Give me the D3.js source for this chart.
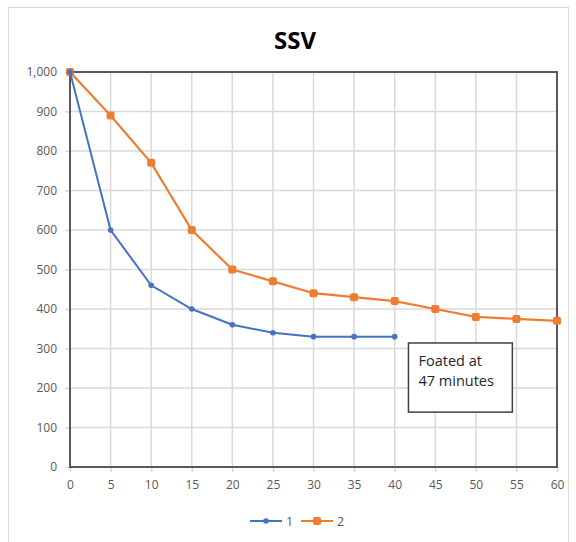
<!DOCTYPE html>
<html lang="en">
<head>
<meta charset="utf-8">
<title>SSV</title>
<script src="https://d3js.org/d3.v7.min.js"></script>
<style>
  body { margin: 0; background: #fff; }
  text { font-family: "Open Sans", "Liberation Sans", sans-serif; }
  .tick text { fill: #595959; font-size: 12px; }
</style>
</head>
<body>
<svg width="576" height="542"></svg>
<script>
// data
var minutes1 = [0, 5, 10, 15, 20, 25, 30, 35, 40];
var ssv1 = [1000, 600, 460, 400, 360, 340, 330, 330, 330];
var minutes2 = [0, 5, 10, 15, 20, 25, 30, 35, 40, 45, 50, 55, 60];
var ssv2 = [1000, 890, 770, 600, 500, 470, 440, 430, 420, 400, 380, 375, 370];
var xTicks = d3.range(0, 61, 5);
var yTicks = d3.range(0, 1001, 100);
var seriesNames = ["1", "2"];
var noteLines = ["Foated at", "47 minutes"];

var svg = d3.select("svg");
var plotL = 70, plotR = 557, plotT = 72, plotB = 467;

// outer frame
svg.append("rect").attr("x", 8.5).attr("y", 7.5).attr("width", 560).attr("height", 540)
  .attr("fill", "none").attr("stroke", "#d9d9d9");

var x = d3.scaleLinear().domain([0, 60]).range([plotL, plotR]);
var y = d3.scaleLinear().domain([0, 1000]).range([plotB, plotT]);

svg.append("text").attr("x", 295).attr("y", 49).attr("text-anchor", "middle")
  .attr("font-size", 24).attr("font-weight", "bold").attr("fill", "#000").text("SSV");

// grid
svg.append("g").selectAll("line").data(xTicks).join("line")
  .attr("x1", d => x(d)).attr("x2", d => x(d)).attr("y1", plotT).attr("y2", plotB)
  .attr("stroke", "#d9d9d9").attr("stroke-width", 1.5);
svg.append("g").selectAll("line").data(yTicks).join("line")
  .attr("x1", plotL).attr("x2", plotR).attr("y1", d => y(d)).attr("y2", d => y(d))
  .attr("stroke", "#d9d9d9").attr("stroke-width", 1.5);

// axes
var xAxis = svg.append("g").attr("transform", `translate(0,${plotB})`)
  .call(d3.axisBottom(x).tickValues(xTicks).tickSize(5).tickPadding(8));
var yAxis = svg.append("g").attr("transform", `translate(${plotL},0)`)
  .call(d3.axisLeft(y).tickValues(yTicks).tickSize(5).tickPadding(8).tickFormat(d3.format(",")));
[xAxis, yAxis].forEach(a => {
  a.select(".domain").remove();
  a.selectAll(".tick line").attr("stroke", "#d9d9d9").attr("stroke-width", 1.5);
});

// plot border
svg.append("rect").attr("x", plotL).attr("y", plotT).attr("width", plotR - plotL).attr("height", plotB - plotT)
  .attr("fill", "none").attr("stroke", "#595959").attr("stroke-width", 2);

// note box
var bx0 = x(41.7), bx1 = x(54.5), by0 = y(314), by1 = y(139);
svg.append("rect").attr("x", bx0).attr("y", by0).attr("width", bx1 - bx0).attr("height", by1 - by0)
  .attr("fill", "#fff").attr("stroke", "#404040").attr("stroke-width", 1.5);
svg.append("text").attr("x", bx0 + 10).attr("y", by0 + 23).attr("font-size", 14.5).attr("fill", "#262626")
  .selectAll("tspan").data(noteLines).join("tspan")
  .attr("x", bx0 + 10).attr("dy", (d, i) => i ? 20 : 0).text(d => d);

var line = d3.line().x(d => x(d[0])).y(d => y(d[1]));
var d1 = minutes1.map((m, i) => [m, ssv1[i]]);
var d2 = minutes2.map((m, i) => [m, ssv2[i]]);

svg.append("path").datum(d2).attr("d", line).attr("fill", "none")
  .attr("stroke", "#ED7D31").attr("stroke-width", 2.2);
svg.append("g").selectAll("rect").data(d2).join("rect")
  .attr("x", d => x(d[0]) - 4).attr("y", d => y(d[1]) - 4).attr("width", 8).attr("height", 8)
  .attr("rx", 2).attr("fill", "#ED7D31");

svg.append("path").datum(d1).attr("d", line).attr("fill", "none")
  .attr("stroke", "#4472C4").attr("stroke-width", 2);
svg.append("g").selectAll("circle").data(d1).join("circle")
  .attr("cx", d => x(d[0])).attr("cy", d => y(d[1])).attr("r", 2.8).attr("fill", "#4472C4");

// legend
var legend = svg.append("g").attr("transform", "translate(250,521)");
var colors = ["#4472C4", "#ED7D31"];
seriesNames.forEach((n, i) => {
  var g = legend.append("g").attr("transform", `translate(${i * 51},0)`);
  g.append("line").attr("x1", 0).attr("x2", 32).attr("stroke", colors[i]).attr("stroke-width", 2);
  if (i === 0) g.append("circle").attr("cx", 16).attr("r", 2.8).attr("fill", colors[i]);
  else g.append("rect").attr("x", 12).attr("y", -4).attr("width", 8).attr("height", 8).attr("rx", 2).attr("fill", colors[i]);
  g.append("text").attr("x", 36).attr("y", 4.5).attr("font-size", 12.5).attr("fill", "#595959").text(n);
});
</script>
</body>
</html>
